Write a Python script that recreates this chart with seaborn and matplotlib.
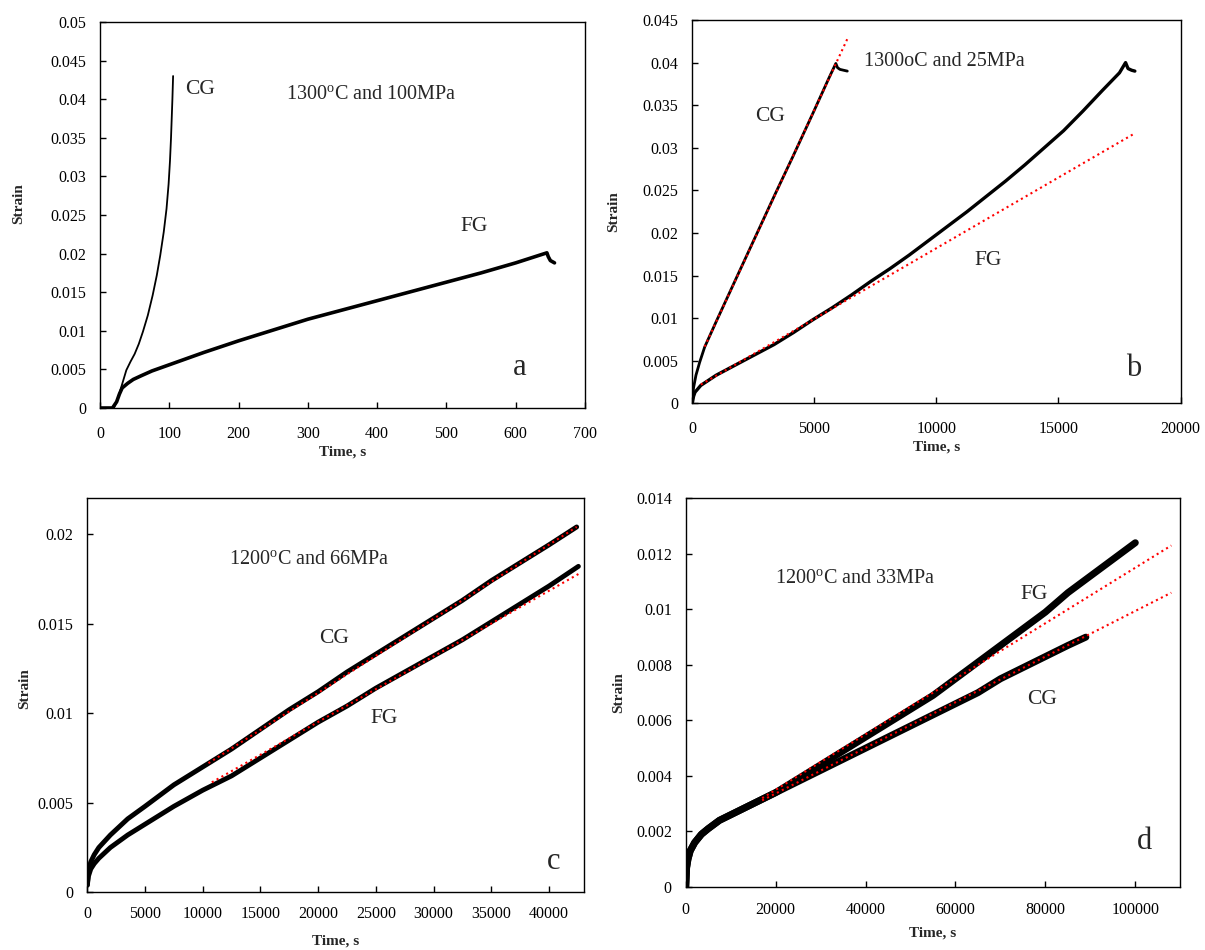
import numpy as np
import pandas as pd
import matplotlib
matplotlib.use("Agg")
import matplotlib.pyplot as plt
from matplotlib.ticker import FuncFormatter, MultipleLocator
import seaborn as sns

# ---------------- creep data ----------------
# (a) 1300 C, 100 MPa
a_cg_t = [0, 10, 20, 24, 29, 34, 38, 44, 50, 56, 62, 69, 76, 82, 87, 92, 96, 99, 101, 102.5, 103.5, 104.5, 105.5]
a_cg_s = [0, 0, 0, 0.0008, 0.0022, 0.0037, 0.0049, 0.0060, 0.0070, 0.0083, 0.0099, 0.0120, 0.0146, 0.0172, 0.0198,
          0.0228, 0.0258, 0.0290, 0.0320, 0.0350, 0.0375, 0.0400, 0.0430]
a_fg_t = [0, 18, 24, 28, 32, 40, 48, 60, 75, 100, 150, 200, 250, 300, 350, 400, 450, 500, 550, 600, 645, 647, 650, 656]
a_fg_s = [0, 0, 0.0008, 0.0018, 0.0026, 0.0032, 0.0037, 0.0042, 0.0048, 0.0056, 0.0072, 0.0087, 0.0101, 0.0115,
          0.0127, 0.0139, 0.0151, 0.0163, 0.0175, 0.0188, 0.0201, 0.0196, 0.0191, 0.0188]

# (b) 1300 C, 25 MPa
b_cg_t = [0, 50, 150, 300, 506, 980, 1770, 2561, 3351, 4142, 4933, 5600, 5880, 5950, 6050, 6200, 6350]
b_cg_s = [0, 0.0018, 0.0033, 0.0048, 0.0066, 0.0096, 0.0145, 0.0194, 0.0243, 0.0291, 0.0340, 0.0382, 0.0399,
          0.0394, 0.0392, 0.0391, 0.0390]
b_fg_t = [0, 50, 110, 348, 980, 1770, 2561, 3351, 4142, 4933, 5723, 6513, 7304, 8095, 8885, 9676, 10466, 11257,
          12047, 12838, 13628, 14419, 15209, 16000, 16790, 17500, 17750, 17850, 18000, 18130]
b_fg_s = [0, 0.0008, 0.0013, 0.0021, 0.0033, 0.0045, 0.0057, 0.0069, 0.0083, 0.0098, 0.0112, 0.0127, 0.0143,
          0.0158, 0.0174, 0.0191, 0.0208, 0.0225, 0.0243, 0.0261, 0.0280, 0.0300, 0.0320, 0.0343, 0.0367,
          0.0388, 0.0400, 0.0393, 0.0391, 0.0390]
b_cg_fit_t = [506, 6355]
b_cg_fit_s = [0.00665, 0.0428]
b_fg_fit_t = [350, 18130]
b_fg_fit_s = [0.0022, 0.0317]

# (c) 1200 C, 66 MPa
c_cg_t = [0, 100, 300, 600, 1000, 2000, 3500, 5000, 7500, 10000, 12500, 15000, 17500, 20000, 22500, 25000,
          27500, 30000, 32500, 35000, 37500, 40000, 42400]
c_cg_s = [0.0004, 0.0012, 0.0017, 0.0021, 0.0025, 0.0032, 0.0041, 0.0048, 0.0060, 0.0070, 0.0080, 0.0091,
          0.0102, 0.0112, 0.0123, 0.0133, 0.0143, 0.0153, 0.0163, 0.0174, 0.0184, 0.0194, 0.0204]
c_fg_t = [0, 100, 300, 600, 1000, 2000, 3500, 5000, 7500, 10000, 12500, 15000, 17500, 20000, 22500, 25000,
          27500, 30000, 32500, 35000, 37500, 40000, 42550]
c_fg_s = [0.0004, 0.0009, 0.0013, 0.0016, 0.0019, 0.0025, 0.0032, 0.0038, 0.0048, 0.0057, 0.0065, 0.0075,
          0.0085, 0.0095, 0.0104, 0.0114, 0.0123, 0.0132, 0.0141, 0.0151, 0.0161, 0.0171, 0.0182]
c_cg_fit_t = [10500, 42400]
c_cg_fit_s = [0.00721, 0.0204]
c_fg_fit_t = [10790, 42550]
c_fg_fit_s = [0.00614, 0.01777]

# (d) 1200 C, 33 MPa
d_fg_t = [0, 200, 500, 1000, 2000, 3500, 5000, 7500, 10000, 12500, 15000, 17500, 20000, 25000, 30000, 35000,
          40000, 45000, 50000, 55000, 60000, 65000, 70000, 75000, 80000, 85000, 90000, 95000, 100000]
d_fg_s = [0, 0.0007, 0.0010, 0.0013, 0.0016, 0.0019, 0.0021, 0.0024, 0.0026, 0.0028, 0.0030, 0.0032, 0.0034,
          0.0039, 0.0044, 0.0049, 0.0054, 0.0059, 0.0064, 0.0069, 0.0075, 0.0081, 0.0087, 0.0093, 0.0099,
          0.0106, 0.0112, 0.0118, 0.0124]
d_cg_t = [0, 200, 500, 1000, 2000, 3500, 5000, 7500, 10000, 12500, 15000, 17500, 20000, 25000, 30000, 35000,
          40000, 45000, 50000, 55000, 60000, 65000, 70000, 75000, 80000, 85000, 89000]
d_cg_s = [0, 0.0007, 0.0010, 0.0013, 0.0016, 0.0019, 0.0021, 0.0024, 0.0026, 0.0028, 0.0030, 0.0032, 0.0034,
          0.0038, 0.0042, 0.0046, 0.0050, 0.0054, 0.0058, 0.0062, 0.0066, 0.0070, 0.0075, 0.0079, 0.0083,
          0.0087, 0.0090]
d_fg_fit_t = [17000, 108000]
d_fg_fit_s = [0.0032, 0.0123]
d_cg_fit_t = [17000, 108000]
d_cg_fit_s = [0.00312, 0.0106]

# ---------------- style ----------------
sns.set_theme(style="white")
plt.rcParams["font.family"] = ["Liberation Serif", "DejaVu Serif"]
plt.rcParams["mathtext.fontset"] = "custom"
plt.rcParams["mathtext.rm"] = "Liberation Serif"
plt.rcParams["axes.edgecolor"] = "black"
plt.rcParams["axes.linewidth"] = 1.0

TICK_FS = 11.5
LABEL_FS = 11
NOTE_FS = 14.5
CURVE_FS = 15.5
LETTER_FS = 22

fig = plt.figure(figsize=(12.05, 9.5), dpi=100)
W, H = 1205.0, 950.0


def make_axes(left, right, top, bottom):
    return fig.add_axes([left / W, 1 - bottom / H, (right - left) / W, (bottom - top) / H])


def curve(ax, t, s, lw, color="black", ls="-"):
    df = pd.DataFrame({"t": t, "s": s})
    sns.lineplot(data=df, x="t", y="s", ax=ax, color=color, linewidth=lw, linestyle=ls,
                 sort=False, estimator=None, legend=False)


def fit(ax, t, s):
    curve(ax, t, s, lw=1.5, color="red", ls=":")


fmt = FuncFormatter(lambda v, p: f"{v:g}")


def style_axes(ax, xlim, xstep, ylim, ystep, xpad, ylab_xy, xlab_xy):
    ax.set_xlim(*xlim)
    ax.set_ylim(*ylim)
    ax.xaxis.set_major_locator(MultipleLocator(xstep))
    ax.yaxis.set_major_locator(MultipleLocator(ystep))
    ax.xaxis.set_major_formatter(fmt)
    ax.yaxis.set_major_formatter(fmt)
    ax.tick_params(axis="both", direction="in", length=4, width=1, color="black",
                   labelsize=TICK_FS, labelcolor="black")
    ax.tick_params(axis="x", pad=xpad, bottom=True)
    ax.tick_params(axis="y", pad=10, left=True)
    for sp in ax.spines.values():
        sp.set_visible(True)
        sp.set_color("black")
        sp.set_linewidth(1.0)
    ax.set_xlabel("Time, s", fontsize=LABEL_FS, fontweight="bold")
    ax.set_ylabel("Strain", fontsize=LABEL_FS, fontweight="bold")
    ax.yaxis.set_label_coords(*ylab_xy)
    ax.xaxis.set_label_coords(*xlab_xy)
    ax.set_facecolor("white")


# ---------------- panel a ----------------
ax_a = make_axes(100, 585, 22, 408)
curve(ax_a, a_cg_t, a_cg_s, lw=1.3)
curve(ax_a, a_fg_t, a_fg_s, lw=2.6)
style_axes(ax_a, (0, 700), 100, (0, 0.05), 0.005, 13, (-0.154, 0.53), (0.5, -0.098))
ax_a.text(123, 0.0412, "CG", fontsize=CURVE_FS, va="center", ha="left")
ax_a.text(392, 0.0405, "1300$^{\\rm o}$C and 100MPa", fontsize=NOTE_FS, va="center", ha="center")
ax_a.text(540, 0.0235, "FG", fontsize=CURVE_FS, va="center", ha="center")
ax_a.text(606, 0.0053, "a", fontsize=LETTER_FS, va="center", ha="center")

# ---------------- panel b ----------------
ax_b = make_axes(692.3, 1180.5, 20, 403.3)
curve(ax_b, b_cg_t, b_cg_s, lw=2.0)
curve(ax_b, b_fg_t, b_fg_s, lw=2.4)
fit(ax_b, b_cg_fit_t, b_cg_fit_s)
fit(ax_b, b_fg_fit_t, b_fg_fit_s)
style_axes(ax_b, (0, 20000), 5000, (0, 0.045), 0.005, 12.5, (-0.147, 0.5), (0.5, -0.098))
ax_b.text(10330, 0.0401, "1300oC and 25MPa", fontsize=NOTE_FS, va="center", ha="center")
ax_b.text(3180, 0.0337, "CG", fontsize=CURVE_FS, va="center", ha="center")
ax_b.text(12110, 0.0168, "FG", fontsize=CURVE_FS, va="center", ha="center")
ax_b.text(18090, 0.0041, "b", fontsize=LETTER_FS, va="center", ha="center")

# ---------------- panel c ----------------
ax_c = make_axes(87.3, 583.6, 498.3, 892.3)
curve(ax_c, c_cg_t, c_cg_s, lw=3.5)
curve(ax_c, c_fg_t, c_fg_s, lw=3.5)
fit(ax_c, c_cg_fit_t, c_cg_fit_s)
fit(ax_c, c_fg_fit_t, c_fg_fit_s)
style_axes(ax_c, (0, 43000), 5000, (0, 0.022), 0.005, 10, (-0.113, 0.518), (0.5, -0.108))
ax_c.text(19210, 0.01855, "1200$^{\\rm o}$C and 66MPa", fontsize=NOTE_FS, va="center", ha="center")
ax_c.text(21400, 0.01418, "CG", fontsize=CURVE_FS, va="center", ha="center")
ax_c.text(25740, 0.00971, "FG", fontsize=CURVE_FS, va="center", ha="center")
ax_c.text(40400, 0.00171, "c", fontsize=LETTER_FS, va="center", ha="center")

# ---------------- panel d ----------------
ax_d = make_axes(685.7, 1180.3, 498.3, 887)
curve(ax_d, d_fg_t, d_fg_s, lw=5.0)
curve(ax_d, d_cg_t, d_cg_s, lw=5.0)
fit(ax_d, d_fg_fit_t, d_fg_fit_s)
fit(ax_d, d_cg_fit_t, d_cg_fit_s)
style_axes(ax_d, (0, 110000), 20000, (0, 0.014), 0.002, 10.5, (-0.122, 0.5), (0.5, -0.102))
ax_d.text(37670, 0.01108, "1200$^{\\rm o}$C and 33MPa", fontsize=NOTE_FS, va="center", ha="center")
ax_d.text(77570, 0.01052, "FG", fontsize=CURVE_FS, va="center", ha="center")
ax_d.text(79280, 0.00676, "CG", fontsize=CURVE_FS, va="center", ha="center")
ax_d.text(102050, 0.00163, "d", fontsize=LETTER_FS, va="center", ha="center")

fig.patch.set_facecolor("white")
fig.savefig("out.png", dpi=100, facecolor="white")
